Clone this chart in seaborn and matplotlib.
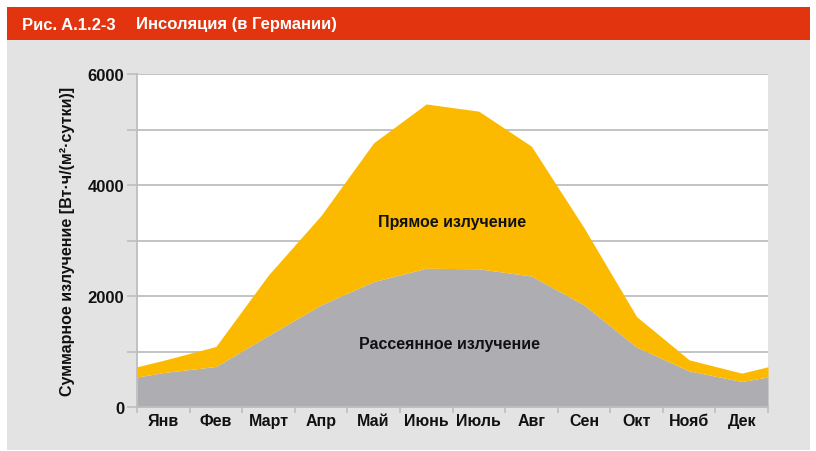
import numpy as np
import pandas as pd
import matplotlib
matplotlib.use("Agg")
import matplotlib.pyplot as plt
import seaborn as sns
from matplotlib.patches import Rectangle

# Данные, Вт·ч/(м²·сутки)
months = ['Янв', 'Фев', 'Март', 'Апр', 'Май', 'Июнь', 'Июль', 'Авг', 'Сен', 'Окт', 'Нояб', 'Дек']
diffuse = [620, 730, 1290, 1840, 2260, 2500, 2490, 2360, 1840, 1080, 650, 460]
direct = [220, 360, 1090, 1610, 2500, 2960, 2840, 2340, 1390, 550, 200, 150]

title_num = 'Рис. A.1.2-3'
title_txt = 'Инсоляция (в Германии)'
ylabel = 'Суммарное излучение [Вт·ч/(м²·сутки)]'
label_direct = 'Прямое излучение'
label_diffuse = 'Рассеянное излучение'

col_direct = '#FBB900'
col_diffuse = '#AEADB2'
col_header = '#E2340F'
col_panel = '#E2E3E2'
col_grid = '#BEBEBE'

sns.set_theme(style="whitegrid")
plt.rcParams['font.family'] = ['Liberation Sans', 'DejaVu Sans']

df = pd.DataFrame({'month': months, 'diffuse': diffuse, 'direct': direct})
df['pos'] = np.arange(len(df)) + 0.5

# на краях оси значение между декабрём и январём
x = np.concatenate([[0], df['pos'], [len(df)]])
edge_d = (df['diffuse'].iloc[0] + df['diffuse'].iloc[-1]) / 2
edge_p = (df['direct'].iloc[0] + df['direct'].iloc[-1]) / 2
y_diff = np.concatenate([[edge_d], df['diffuse'], [edge_d]])
y_dir = np.concatenate([[edge_p], df['direct'], [edge_p]])

fig = plt.figure(figsize=(8.16, 4.52), dpi=100)
fig.patch.set_facecolor('white')

# серая подложка и красная шапка
fig.patches.append(Rectangle((7 / 816, 1 - 451 / 452), 803 / 816, 410 / 452,
                             transform=fig.transFigure, facecolor=col_panel, edgecolor='none', zorder=-2))
fig.patches.append(Rectangle((7 / 816, 1 - 41 / 452), 803 / 816, 33 / 452,
                             transform=fig.transFigure, facecolor=col_header, edgecolor='none', zorder=-2))
fig.text(22 / 816, 1 - 25 / 452, title_num, color='white', fontsize=12, fontweight='bold', va='center')
fig.text(136 / 816, 1 - 25 / 452, title_txt, color='white', fontsize=12, fontweight='bold', va='center')

ax = fig.add_axes([137 / 816, 1 - 408 / 452, 631 / 816, 333 / 452])
ax.set_facecolor('white')

ax.stackplot(x, y_diff, y_dir, colors=[col_diffuse, col_direct], linewidth=0, zorder=2)

ax.set_xlim(0, 12)
ax.set_ylim(0, 6000)

# сетка
ax.set_yticks(np.arange(0, 6001, 1000))
ax.set_yticklabels(['0', '', '2000', '', '4000', '', '6000'])
ax.grid(False)
for v in range(1000, 6001, 1000):
    ax.axhline(v, color=col_grid, lw=1.3, zorder=1)

ax.set_xticks(np.arange(0, 13))
ax.set_xticklabels([])
ax.set_xticks(df['pos'], minor=True)
ax.set_xticklabels(df['month'], minor=True)
ax.tick_params(axis='x', which='major', length=4, width=1.2, color=col_grid, direction='out', bottom=True)
ax.tick_params(axis='x', which='minor', length=0, pad=4, labelsize=11.5)
ax.tick_params(axis='y', length=7, width=1.2, color=col_grid, direction='out', left=True, pad=2, labelsize=12)
for lbl in ax.get_xticklabels(minor=True) + ax.get_yticklabels():
    lbl.set_fontweight('bold')
    lbl.set_color('#111111')

for s in ['top', 'right']:
    ax.spines[s].set_visible(False)
for s in ['left', 'bottom']:
    ax.spines[s].set_color(col_grid)
    ax.spines[s].set_linewidth(1.3)
    ax.spines[s].set_zorder(3)

ax.set_ylabel(ylabel, fontsize=11.5, fontweight='bold', color='#111111')
ax.yaxis.set_label_coords(-0.098, 0.5)

ax.text(5.99, 3350, label_direct, ha='center', va='center', fontsize=11.5, fontweight='bold', color='#111111', zorder=4)
ax.text(5.95, 1150, label_diffuse, ha='center', va='center', fontsize=11.5, fontweight='bold', color='#111111', zorder=4)

fig.savefig('out.png', dpi=100)
